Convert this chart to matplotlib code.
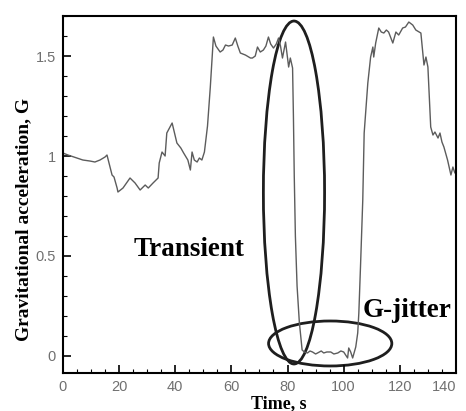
import matplotlib
matplotlib.use("Agg")
import matplotlib.pyplot as plt
from matplotlib.patches import Ellipse
from matplotlib.ticker import MultipleLocator

# time (s) and gravitational acceleration (G)
time = [0, 1.8, 5, 7.1, 9.6, 11.4, 13.2, 15, 15.7, 16.8, 17.5, 18.2, 19.3, 19.6,
        21.4, 23.9, 25.7, 27.5, 29.3, 30.4, 32.1, 33.9, 34.3, 35.3, 36.4, 37, 38.9,
        40.6, 42, 43, 44.5, 45.4, 46, 46.8, 47.8, 48.6, 49.5, 50.4, 51.5, 52.5,
        53.6, 54.5, 56, 57, 57.9, 59, 60.3, 61.4, 62.3, 63.2, 65, 66.8, 67.5, 68.5,
        69.3, 70.3, 71.4, 72.3, 73.2, 74, 75, 76, 76.8, 77.5, 78.2, 79.3, 80.4, 81,
        81.8, 82.1, 82.4, 82.8, 83.4, 84.2, 85.2, 86, 87.1, 88, 88.9, 90, 90.7, 92,
        92.9, 94, 95.4, 96.5, 97.9, 99, 100, 101.4, 101.8, 102.5, 103.2, 104.3, 105,
        105.4, 106, 106.8, 107.3, 108.6, 109.6, 110.4, 110.7, 111.4, 112.5, 113.4,
        114.3, 115.2, 116, 117.5, 118.6, 119.6, 121, 122, 123.2, 124.6, 125.7, 127.5,
        128.6, 129.3, 130, 131, 131.8, 132.5, 133.6, 134.3, 135, 135.7, 137, 138.2,
        138.9, 139.6, 140]
accel = [1.015, 1.005, 0.99, 0.98, 0.975, 0.97, 0.98, 0.995, 1.005, 0.945, 0.905,
         0.895, 0.84, 0.82, 0.84, 0.89, 0.865, 0.83, 0.855, 0.84, 0.865, 0.89, 0.965,
         1.02, 1.0, 1.115, 1.165, 1.065, 1.04, 1.015, 0.98, 0.93, 1.02, 0.98, 0.97,
         0.99, 0.98, 1.02, 1.15, 1.345, 1.595, 1.55, 1.52, 1.53, 1.555, 1.55, 1.555,
         1.59, 1.55, 1.515, 1.505, 1.49, 1.49, 1.5, 1.545, 1.52, 1.53, 1.55, 1.595,
         1.56, 1.54, 1.56, 1.59, 1.55, 1.49, 1.57, 1.445, 1.49, 1.44, 1.2, 0.9, 0.6,
         0.35, 0.17, 0.03, 0.02, 0.015, 0.025, 0.02, 0.01, 0.015, 0.025, 0.015, 0.02,
         0.02, 0.01, 0.015, 0.025, 0.02, -0.01, 0.04, 0.02, -0.01, 0.045, 0.115, 0.215,
         0.45, 0.78, 1.115, 1.365, 1.495, 1.545, 1.495, 1.565, 1.64, 1.62, 1.615, 1.63,
         1.62, 1.565, 1.62, 1.605, 1.64, 1.645, 1.67, 1.655, 1.63, 1.615, 1.455, 1.495,
         1.445, 1.145, 1.105, 1.12, 1.09, 1.115, 1.07, 1.045, 0.98, 0.905, 0.945,
         0.915, 0.93]
x_ticks = [0, 20, 40, 60, 80, 100, 120, 140]
y_ticks = [0, 0.5, 1, 1.5]
y_ticklabels = ["0", "0.5", "1", "1.5"]

fig = plt.figure(figsize=(4.66, 4.11), dpi=100)
ax = fig.add_axes([0.135, 0.0925, 0.8435, 0.8685])

ax.plot(time, accel, color="#5c5c5c", lw=1.0)

ax.set_xlim(0, 140)
ax.set_ylim(-0.085, 1.70)
ax.set_xticks(x_ticks)
ax.set_xticklabels([str(t) for t in x_ticks])
ax.xaxis.set_minor_locator(MultipleLocator(5))
ax.set_yticks(y_ticks)
ax.set_yticklabels(y_ticklabels)
ax.yaxis.set_minor_locator(MultipleLocator(0.1))

ax.tick_params(which="both", direction="in", top=False, right=False,
               labelsize=10.5, labelcolor="#707070", pad=5)
ax.tick_params(which="major", length=6, width=1.2)
ax.tick_params(which="minor", length=3, width=0.8)
for lbl in ax.get_xticklabels() + ax.get_yticklabels():
    lbl.set_family("Liberation Sans")
# last x label sits right at the figure edge
ax.get_xticklabels()[-1].set_ha("right")
for s in ax.spines.values():
    s.set_linewidth(1.5)

serif = "Liberation Serif"
ax.set_xlabel("Time, s", family=serif, weight="bold", fontsize=13)
ax.xaxis.set_label_coords(0.548, -0.062)
ax.set_ylabel("Gravitational acceleration, G", family=serif, weight="bold", fontsize=14)
ax.yaxis.set_label_coords(-0.079, 0.43)

# annotations
ax.add_patch(Ellipse((82.3, 0.8175), 21.8, 1.715, fill=False, ec="#1e1e1e", lw=2.0, clip_on=False))
ax.add_patch(Ellipse((95.2, 0.0625), 43.9, 0.225, fill=False, ec="#1e1e1e", lw=2.0, clip_on=False))
ax.text(25, 0.53, "Transient", family=serif, weight="bold", fontsize=19.5, va="center", ha="left")
ax.text(106.7, 0.225, "G-jitter", family=serif, weight="bold", fontsize=19.5, va="center", ha="left")

fig.savefig("out.png", dpi=100)
